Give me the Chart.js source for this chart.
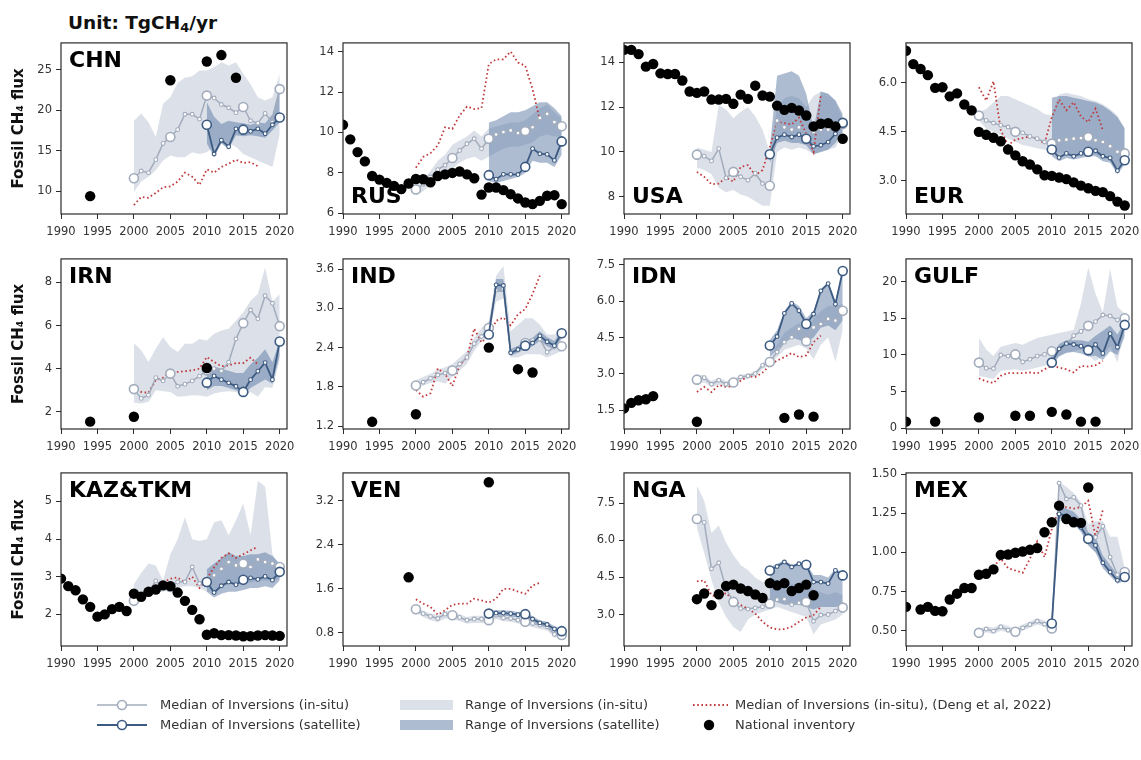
<!DOCTYPE html>
<html>
<head>
<meta charset="utf-8">
<script src="https://cdn.jsdelivr.net/npm/chart.js@4.4.1/dist/chart.umd.min.js"></script>
<style>
  html, body { margin: 0; padding: 0; background: #fff; }
  body { width: 1141px; height: 760px; position: relative; overflow: hidden; font-family: "DejaVu Sans", sans-serif; color: #222; }
  canvas { position: absolute; }
  #unit { position: absolute; left: 68px; top: 12px; font-weight: bold; font-size: 18.5px; line-height: 22px; color: #111; white-space: nowrap; }
  #unit sub { font-size: 70%; vertical-align: -0.2em; line-height: 0; }
  .lg-h { position: absolute; }
  .lg-t { position: absolute; font-size: 13px; line-height: 16px; color: #333; white-space: nowrap; }
</style>
</head>
<body>
<div id="unit">Unit: TgCH<sub>4</sub>/yr</div>
<script>
// ---------- shared year axes ----------
const YEARS_ALL = [1990,1991,1992,1993,1994,1995,1996,1997,1998,1999,2000,2001,2002,2003,2004,2005,2006,2007,2008,2009,2010,2011,2012,2013,2014,2015,2016,2017,2018,2019,2020];
const YEARS_INSITU = [2000,2001,2002,2003,2004,2005,2006,2007,2008,2009,2010,2011,2012,2013,2014,2015,2016,2017,2018,2019,2020];
const YEARS_SAT = [2010,2011,2012,2013,2014,2015,2016,2017,2018,2019,2020];
const YEARS_DENG = [2000,2001,2002,2003,2004,2005,2006,2007,2008,2009,2010,2011,2012,2013,2014,2015,2016,2017];
const X_TICKS = [1990, 1995, 2000, 2005, 2010, 2015, 2020];
const X_LIM = [1990, 2021];

// ---------- CHN ----------
const CHN_INV_YEARS = [1994, 2005, 2010, 2012, 2014];
const CHN_INV = [9.4, 23.7, 26.0, 26.8, 24.0];
const CHN_INSITU = [11.6, 12.5, 12.3, 13.9, 15.9, 16.7, 17.6, 19.5, 19.5, 18.9, 21.8, 21.5, 20.7, 20.3, 19.7, 20.4, 18.7, 18.4, 19.6, 18.5, 22.6];
const CHN_INSITU_LO = [9.9, 11.2, 11.8, 12.6, 13.8, 14.4, 14.2, 14.2, 14.8, 14.6, 14.8, 15.5, 15.9, 15.9, 15.5, 14.6, 14.2, 13.8, 13.4, 13.0, 17.0];
const CHN_INSITU_HI = [18.7, 19.6, 18.5, 16.7, 20.8, 21.6, 23.4, 24.0, 24.2, 24.9, 24.9, 25.3, 25.9, 25.5, 25.9, 24.5, 23.2, 21.6, 21.2, 21.6, 24.5];
const CHN_SAT = [18.2, 14.6, 16.3, 15.5, 17.7, 17.6, 17.4, 17.7, 17.1, 18.2, 19.1];
const CHN_SAT_LO = [15.9, 14.2, 15.9, 15.2, 16.9, 16.8, 16.9, 16.8, 16.6, 17.5, 18.5];
const CHN_SAT_HI = [21.0, 19.2, 18.3, 18.7, 18.5, 18.4, 18.2, 18.5, 18.4, 19.5, 23.0];
const CHN_DENG = [8.3, 9.3, 9.2, 9.8, 10.5, 10.6, 11.2, 12.3, 11.8, 10.8, 12.7, 12.3, 13.0, 13.4, 13.9, 13.5, 13.6, 13.1];
const CHN_Y_TICKS = ['10', '15', '20', '25'];
const CHN_Y_LIM = [7.2, 28.3];

// ---------- RUS ----------
const RUS_INV_YEARS = YEARS_ALL;
const RUS_INV = [10.38, 9.66, 9.03, 8.57, 7.85, 7.67, 7.51, 7.36, 7.2, 7.48, 7.7, 7.69, 7.54, 7.85, 7.93, 8.0, 8.07, 7.93, 7.74, 6.93, 7.28, 7.28, 7.15, 6.95, 6.74, 6.54, 6.46, 6.62, 6.87, 6.9, 6.46];
const RUS_INSITU = [7.18, 7.44, 7.8, 8.16, 8.38, 8.74, 9.11, 9.44, 9.69, 9.2, 9.69, 9.9, 10.02, 10.1, 9.97, 10.07, 10.26, 10.72, 10.92, 10.51, 10.31];
const RUS_INSITU_LO = [6.9, 7.1, 7.4, 7.7, 7.9, 8.2, 8.5, 8.7, 8.8, 8.6, 8.8, 9.0, 9.2, 9.3, 9.3, 9.4, 9.5, 9.8, 9.9, 9.8, 9.8];
const RUS_INSITU_HI = [7.5, 7.7, 8.1, 8.6, 8.9, 9.4, 9.6, 9.8, 10.1, 9.8, 10.2, 10.3, 10.4, 10.5, 10.5, 10.6, 10.9, 11.2, 11.4, 11.0, 10.7];
const RUS_SAT = [7.89, 7.69, 7.93, 7.93, 7.92, 8.3, 9.2, 8.95, 8.92, 8.62, 9.56];
const RUS_SAT_LO = [7.6, 7.5, 7.6, 7.7, 7.8, 8.0, 8.6, 8.5, 8.5, 8.3, 8.9];
const RUS_SAT_HI = [10.5, 10.6, 10.8, 11.0, 11.0, 11.1, 11.3, 11.5, 11.5, 11.2, 10.8];
const RUS_DENG = [8.26, 8.79, 8.98, 9.36, 10.26, 10.18, 10.84, 11.28, 11.16, 11.21, 13.38, 13.62, 13.62, 14.0, 13.46, 13.3, 12.15, 10.62];
const RUS_Y_TICKS = ['6', '8', '10', '12', '14'];
const RUS_Y_LIM = [5.97, 14.43];

// ---------- USA ----------
const USA_INV_YEARS = YEARS_ALL;
const USA_INV = [14.56, 14.56, 14.37, 13.81, 13.93, 13.51, 13.48, 13.48, 13.19, 12.7, 12.64, 12.7, 12.34, 12.34, 12.37, 12.15, 12.56, 12.37, 12.96, 12.52, 12.47, 12.07, 11.88, 11.97, 11.85, 11.63, 11.14, 11.26, 11.29, 11.14, 10.59];
const USA_INSITU = [9.88, 9.81, 9.6, 10.15, 8.84, 9.11, 8.89, 8.74, 9.04, 8.59, 8.49, 11.4, 11.1, 11.0, 11.1, 10.6, 10.9, 11.0, 11.0, 11.1, 11.25];
const USA_INSITU_LO = [9.3, 9.2, 9.0, 8.4, 8.2, 8.3, 8.1, 8.0, 7.8, 7.6, 7.6, 10.0, 10.2, 10.1, 10.2, 10.1, 9.9, 10.0, 10.1, 10.2, 10.8];
const USA_INSITU_HI = [10.2, 10.1, 10.0, 12.1, 11.9, 11.5, 11.8, 12.0, 11.6, 11.0, 10.0, 12.0, 12.4, 12.5, 12.4, 12.0, 12.5, 12.7, 12.6, 12.3, 11.5];
const USA_SAT = [9.9, 10.64, 10.77, 10.67, 10.77, 10.59, 10.25, 10.3, 10.44, 10.81, 11.3];
const USA_SAT_LO = [9.5, 10.4, 10.5, 10.4, 10.4, 10.3, 9.9, 10.0, 10.1, 10.4, 10.9];
const USA_SAT_HI = [10.2, 13.4, 13.5, 13.6, 13.4, 12.6, 11.0, 12.7, 12.6, 12.3, 11.7];
const USA_DENG = [9.11, 8.89, 8.56, 8.59, 8.86, 8.67, 9.33, 9.41, 8.96, 9.19, 10.22, 11.33, 11.29, 11.23, 11.53, 10.81, 10.0, 12.52];
const USA_Y_TICKS = ['8', '10', '12', '14'];
const USA_Y_LIM = [7.23, 14.87];

// ---------- EUR ----------
const EUR_INV_YEARS = YEARS_ALL;
const EUR_INV = [6.99, 6.58, 6.43, 6.24, 5.85, 5.87, 5.59, 5.68, 5.34, 5.16, 4.5, 4.41, 4.32, 4.21, 3.96, 3.78, 3.6, 3.5, 3.35, 3.17, 3.15, 3.1, 3.05, 2.95, 2.85, 2.77, 2.69, 2.65, 2.53, 2.36, 2.24];
const EUR_INSITU = [5.0, 4.85, 4.77, 4.7, 4.65, 4.5, 4.47, 4.36, 4.29, 4.19, 4.14, 4.24, 4.26, 4.29, 4.31, 4.34, 4.24, 4.19, 4.06, 3.89, 3.84];
const EUR_INSITU_LO = [4.85, 4.6, 4.5, 4.4, 4.3, 4.2, 4.1, 4.05, 4.0, 3.95, 3.9, 3.85, 3.8, 3.8, 3.8, 3.8, 3.8, 3.7, 3.65, 3.4, 3.55];
const EUR_INSITU_HI = [5.1, 5.2, 5.4, 5.6, 5.6, 5.5, 5.4, 5.3, 5.2, 5.05, 5.0, 5.65, 5.7, 5.65, 5.6, 5.5, 5.45, 5.35, 5.2, 5.0, 4.6];
const EUR_SAT = [3.96, 3.71, 3.84, 3.75, 3.84, 3.89, 3.92, 3.75, 3.7, 3.31, 3.63];
const EUR_SAT_LO = [3.75, 3.6, 3.7, 3.65, 3.7, 3.75, 3.75, 3.6, 3.55, 3.2, 3.5];
const EUR_SAT_HI = [5.55, 5.6, 5.6, 5.55, 5.5, 5.45, 5.4, 5.3, 5.15, 4.95, 4.6];
const EUR_DENG = [5.87, 5.46, 6.05, 4.55, 4.09, 4.26, 4.31, 4.36, 4.29, 4.14, 4.95, 5.49, 5.16, 5.41, 4.97, 4.8, 5.21, 4.55];
const EUR_Y_TICKS = ['3.0', '4.5', '6.0'];
const EUR_Y_LIM = [1.98, 7.23];

// ---------- IRN ----------
const IRN_INV_YEARS = [1994, 2000, 2010];
const IRN_INV = [1.54, 1.77, 4.03];
const IRN_INSITU = [3.05, 2.62, 2.77, 3.58, 3.43, 3.77, 3.18, 3.28, 3.43, 3.65, 3.92, 4.0, 3.9, 4.3, 5.38, 6.11, 6.72, 6.31, 7.38, 7.03, 5.97];
const IRN_INSITU_LO = [2.42, 2.38, 2.46, 3.0, 2.95, 2.92, 2.7, 2.72, 2.77, 2.75, 2.7, 2.85, 2.92, 2.95, 2.92, 2.7, 2.92, 2.7, 3.15, 3.1, 4.4];
const IRN_INSITU_HI = [5.18, 4.85, 4.31, 4.92, 5.46, 5.0, 4.77, 5.15, 5.15, 5.38, 5.31, 5.62, 5.77, 5.85, 6.23, 6.62, 7.15, 7.46, 8.69, 7.1, 7.46];
const IRN_SAT = [3.35, 3.66, 3.49, 3.34, 3.18, 2.92, 3.49, 3.88, 4.28, 3.49, 5.26];
const IRN_SAT_LO = [3.0, 3.2, 3.2, 3.1, 3.0, 2.8, 3.1, 3.3, 3.5, 3.3, 4.6];
const IRN_SAT_HI = [4.0, 4.1, 4.0, 3.9, 3.8, 3.8, 4.2, 4.5, 4.9, 4.3, 5.3];
const IRN_DENG = [3.18, 2.92, 2.88, 3.46, 3.58, 3.85, 3.85, 3.88, 3.92, 4.0, 4.54, 4.31, 4.11, 4.15, 4.26, 4.26, 4.51, 4.2];
const IRN_Y_TICKS = ['2', '4', '6', '8'];
const IRN_Y_LIM = [1.2, 9.09];

// ---------- IND ----------
const IND_INV_YEARS = [1994, 2000, 2010, 2014, 2016];
const IND_INV = [1.265, 1.38, 2.4, 2.07, 2.02];
const IND_INSITU = [1.82, 1.87, 1.93, 1.98, 2.01, 2.05, 2.15, 2.25, 2.46, 2.57, 2.7, 3.28, 3.3, 2.33, 2.36, 2.47, 2.51, 2.53, 2.33, 2.41, 2.42];
const IND_INSITU_LO = [1.78, 1.82, 1.86, 1.88, 1.85, 1.95, 2.05, 2.15, 2.35, 2.5, 2.55, 3.1, 3.15, 2.25, 2.25, 2.3, 2.3, 2.3, 2.25, 2.3, 2.35];
const IND_INSITU_HI = [1.9, 1.95, 2.0, 2.06, 2.1, 2.15, 2.25, 2.35, 2.55, 2.7, 2.8, 3.5, 3.65, 2.65, 2.75, 2.85, 2.85, 2.75, 2.6, 2.6, 2.65];
const IND_SAT = [2.6, 3.36, 3.35, 2.32, 2.37, 2.43, 2.47, 2.58, 2.49, 2.43, 2.62];
const IND_SAT_LO = [2.52, 3.25, 3.25, 2.27, 2.32, 2.38, 2.42, 2.5, 2.42, 2.37, 2.55];
const IND_SAT_HI = [2.68, 3.45, 3.45, 2.38, 2.43, 2.5, 2.55, 2.65, 2.56, 2.5, 2.68];
const IND_DENG = [1.75, 1.65, 1.7, 2.08, 2.0, 1.81, 2.13, 2.25, 2.69, 2.48, 2.58, 2.81, 2.86, 2.74, 2.91, 2.99, 3.22, 3.5];
const IND_Y_TICKS = ['1.2', '1.8', '2.4', '3.0', '3.6'];
const IND_Y_LIM = [1.155, 3.757];

// ---------- IDN ----------
const IDN_INV_YEARS = [1990, 1991, 1992, 1993, 1994, 2000, 2012, 2014, 2016];
const IDN_INV = [1.57, 1.8, 1.91, 1.95, 2.08, 1.02, 1.18, 1.32, 1.23];
const IDN_INSITU = [2.76, 2.84, 2.57, 2.73, 2.57, 2.64, 2.87, 2.91, 3.01, 3.35, 3.49, 3.9, 4.31, 4.51, 4.86, 4.35, 4.92, 5.06, 5.27, 5.2, 5.61];
const IDN_INSITU_LO = [2.6, 2.65, 2.45, 2.55, 2.45, 2.5, 2.75, 2.8, 2.9, 3.2, 3.35, 3.7, 4.0, 4.1, 4.2, 4.05, 3.6, 4.2, 4.5, 3.5, 4.8];
const IDN_INSITU_HI = [2.95, 2.95, 2.7, 2.85, 2.7, 2.8, 2.95, 3.0, 3.1, 3.45, 3.65, 4.2, 4.7, 4.9, 5.1, 4.8, 5.3, 5.6, 5.8, 5.8, 5.9];
const IDN_SAT = [4.17, 4.54, 5.5, 5.91, 5.61, 5.06, 5.47, 6.43, 6.73, 5.88, 7.25];
const IDN_SAT_LO = [3.7, 4.0, 4.3, 4.5, 4.4, 4.3, 4.5, 4.9, 5.0, 4.8, 5.2];
const IDN_SAT_HI = [4.4, 4.8, 5.6, 6.0, 5.8, 5.3, 5.6, 6.5, 6.8, 6.0, 7.3];
const IDN_DENG = [2.25, 2.46, 2.25, 2.53, 2.46, 2.49, 2.71, 2.9, 2.87, 3.05, 3.35, 3.55, 3.69, 3.86, 3.69, 3.76, 4.31, 4.58];
const IDN_Y_TICKS = ['1.5', '3.0', '4.5', '6.0', '7.5'];
const IDN_Y_LIM = [0.72, 7.75];

// ---------- GULF ----------
const GULF_INV_YEARS = [1990, 1994, 2000, 2005, 2007, 2010, 2012, 2014, 2016];
const GULF_INV = [0.9, 0.9, 1.48, 1.7, 1.7, 2.24, 1.88, 0.9, 0.9];
const GULF_INSITU = [8.95, 8.19, 8.14, 9.98, 9.84, 10.07, 9.04, 9.4, 9.84, 10.07, 10.51, 10.74, 11.41, 12.62, 13.2, 13.96, 14.54, 15.44, 15.3, 14.77, 14.99];
const GULF_INSITU_LO = [7.16, 6.93, 6.71, 7.83, 7.96, 8.05, 7.83, 8.05, 8.28, 8.5, 9.17, 9.84, 10.29, 10.51, 10.74, 9.84, 9.17, 9.84, 11.19, 8.95, 13.42];
const GULF_INSITU_HI = [12.3, 10.74, 9.84, 11.1, 11.4, 11.63, 11.4, 11.86, 12.3, 12.53, 12.75, 12.98, 13.2, 13.42, 17.0, 21.92, 18.34, 15.8, 21.7, 16.55, 15.66];
const GULF_SAT = [8.95, 10.83, 11.54, 11.41, 11.19, 10.65, 11.41, 10.2, 12.89, 11.05, 14.09];
const GULF_SAT_LO = [8.5, 9.8, 10.3, 10.4, 10.2, 9.8, 9.9, 9.3, 10.5, 10.0, 12.5];
const GULF_SAT_HI = [9.6, 11.5, 12.0, 12.0, 12.0, 11.8, 12.6, 13.3, 14.0, 12.8, 14.5];
const GULF_DENG = [6.8, 6.4, 6.17, 7.16, 7.52, 7.52, 7.52, 7.61, 7.47, 8.05, 8.5, 8.28, 8.05, 7.61, 8.5, 8.41, 8.59, 9.17];
const GULF_Y_TICKS = ['0', '5', '10', '15', '20'];
const GULF_Y_LIM = [-0.1, 23.09];

// ---------- KAZ&TKM ----------
const KAZ_INV_YEARS = YEARS_ALL;
const KAZ_INV = [2.95, 2.75, 2.64, 2.4, 2.2, 1.94, 2.0, 2.14, 2.2, 2.09, 2.55, 2.47, 2.6, 2.66, 2.77, 2.75, 2.58, 2.36, 2.12, 1.87, 1.46, 1.5, 1.45, 1.45, 1.44, 1.42, 1.42, 1.44, 1.45, 1.44, 1.43];
const KAZ_INSITU = [2.36, 2.47, 2.6, 2.89, 2.73, 2.73, 2.86, 2.86, 3.26, 2.82, 2.86, 3.04, 3.21, 3.39, 3.3, 3.35, 3.26, 3.46, 3.39, 3.35, 3.26];
const KAZ_INSITU_LO = [2.3, 2.45, 2.55, 2.6, 2.6, 2.65, 2.7, 2.75, 2.75, 2.7, 2.6, 2.6, 2.7, 2.8, 2.8, 2.85, 2.85, 2.9, 2.9, 2.9, 2.95];
const KAZ_INSITU_HI = [2.8, 3.1, 3.35, 3.3, 2.9, 3.6, 4.0, 4.58, 4.0, 3.95, 4.0, 4.45, 4.5, 4.1, 4.5, 4.95, 4.1, 5.55, 5.4, 3.6, 3.3];
const KAZ_SAT = [2.86, 2.58, 2.76, 2.86, 2.79, 2.92, 2.97, 2.93, 3.01, 2.91, 3.13];
const KAZ_SAT_LO = [2.6, 2.45, 2.55, 2.6, 2.6, 2.65, 2.7, 2.7, 2.75, 2.7, 2.9];
const KAZ_SAT_HI = [3.2, 3.35, 3.5, 3.65, 3.55, 3.55, 3.6, 3.6, 3.65, 3.55, 3.35];
const KAZ_DENG = [null, null, null, null, 2.85, 2.95, 2.98, 2.85, 3.0, 2.7, 2.95, 3.25, 3.5, 3.62, 3.5, 3.6, 3.7, 3.8];
const KAZ_Y_TICKS = ['2', '3', '4', '5'];
const KAZ_Y_LIM = [1.16, 5.76];

// ---------- VEN ----------
const VEN_INV_YEARS = [1999, 2010];
const VEN_INV = [1.81, 3.54];
const VEN_INSITU = [1.23, 1.15, 1.1, 1.06, 1.14, 1.12, 1.08, 1.03, 1.05, 1.05, 1.03, 1.12, 1.07, 1.06, 1.03, 1.0, 0.97, 0.94, 0.91, 0.77, 0.76];
const VEN_INSITU_LO = [1.17, 1.09, 1.03, 0.99, 1.06, 1.05, 1.01, 0.97, 0.98, 0.98, 0.97, 1.05, 1.01, 1.0, 0.97, 0.94, 0.9, 0.87, 0.84, 0.72, 0.71];
const VEN_INSITU_HI = [1.28, 1.2, 1.15, 1.12, 1.2, 1.18, 1.14, 1.09, 1.11, 1.11, 1.1, 1.18, 1.14, 1.12, 1.1, 1.07, 1.04, 1.01, 0.98, 0.84, 0.82];
const VEN_SAT = [1.15, 1.16, 1.16, 1.15, 1.13, 1.14, 1.05, 0.98, 0.95, 0.87, 0.83];
const VEN_SAT_LO = [1.1, 1.11, 1.11, 1.1, 1.08, 1.08, 1.0, 0.93, 0.9, 0.82, 0.79];
const VEN_SAT_HI = [1.2, 1.21, 1.21, 1.2, 1.18, 1.19, 1.1, 1.03, 1.0, 0.92, 0.87];
const VEN_DENG = [1.41, 1.33, 1.27, 1.13, 1.21, 1.31, 1.33, 1.33, 1.42, 1.39, 1.35, 1.42, 1.6, 1.6, 1.55, 1.51, 1.66, 1.71];
const VEN_Y_TICKS = ['0.8', '1.6', '2.4', '3.2'];
const VEN_Y_LIM = [0.56, 3.71];

// ---------- NGA ----------
const NGA_INV_YEARS = [2000,2001,2002,2003,2004,2005,2006,2007,2008,2009,2010,2011,2012,2013,2014,2015,2016];
const NGA_INV = [3.62, 3.85, 3.38, 3.82, 4.15, 4.21, 4.05, 3.95, 3.81, 3.67, 4.27, 4.18, 4.27, 3.95, 4.07, 4.21, 3.78];
const NGA_INSITU = [6.86, 6.72, 4.85, 5.09, 4.05, 3.51, 3.24, 3.22, 3.27, 3.31, 3.44, 3.6, 3.62, 3.4, 3.47, 3.51, 2.73, 2.98, 3.0, 3.14, 3.28];
const NGA_INSITU_LO = [6.5, 5.5, 4.4, 3.5, 2.9, 2.5, 2.3, 2.8, 3.0, 3.1, 3.2, 3.3, 3.2, 3.1, 3.0, 2.9, 2.2, 2.6, 2.7, 2.8, 3.0];
const NGA_INSITU_HI = [8.2, 7.6, 6.3, 6.6, 5.9, 5.4, 5.0, 4.8, 4.5, 4.3, 4.5, 4.4, 4.3, 4.2, 4.3, 4.4, 4.0, 3.9, 3.8, 3.9, 3.8];
const NGA_SAT = [4.78, 4.94, 5.12, 4.92, 5.05, 5.01, 4.31, 4.31, 4.25, 4.78, 4.58];
const NGA_SAT_LO = [3.6, 3.5, 3.4, 3.4, 3.4, 3.3, 3.2, 3.3, 3.3, 3.3, 3.4];
const NGA_SAT_HI = [4.9, 5.05, 5.2, 5.0, 5.1, 5.05, 4.6, 4.6, 4.5, 4.85, 4.7];
const NGA_DENG = [4.34, 4.38, 3.78, 3.71, 3.87, 3.58, 3.38, 3.24, 3.04, 2.71, 2.48, 2.4, 2.41, 2.51, 2.71, 2.88, 2.98, 3.31];
const NGA_Y_TICKS = ['3.0', '4.5', '6.0', '7.5'];
const NGA_Y_LIM = [1.73, 8.72];

// ---------- MEX ----------
const MEX_INV_YEARS = [1990,1992,1993,1994,1995,1996,1997,1998,1999,2000,2001,2002,2003,2004,2005,2006,2007,2008,2009,2010,2011,2012,2013,2014,2015];
const MEX_INV = [0.653, 0.636, 0.653, 0.627, 0.625, 0.7, 0.737, 0.773, 0.773, 0.858, 0.864, 0.892, 0.985, 0.987, 0.998, 1.006, 1.017, 1.028, 1.129, 1.193, 1.299, 1.214, 1.193, 1.189, 1.415];
const MEX_INSITU = [0.487, 0.511, 0.498, 0.525, 0.504, 0.494, 0.519, 0.54, 0.561, 0.542, 0.515, 1.443, 1.341, 1.352, 1.299, 1.087, 1.097, 1.167, 0.97, 0.858, 0.875];
const MEX_INSITU_LO = [0.47, 0.49, 0.48, 0.5, 0.49, 0.475, 0.5, 0.52, 0.54, 0.525, 0.5, 1.2, 1.2, 1.18, 1.14, 1.04, 1.0, 0.95, 0.88, 0.82, 0.83];
const MEX_INSITU_HI = [0.51, 0.53, 0.52, 0.545, 0.53, 0.515, 0.54, 0.56, 0.58, 0.565, 0.54, 1.45, 1.42, 1.38, 1.32, 1.18, 1.2, 1.2, 1.1, 1.1, 0.9];
const MEX_SAT = [0.547, 1.246, 1.235, 1.214, 1.161, 1.087, 1.045, 0.934, 0.875, 0.822, 0.843];
const MEX_SAT_LO = [0.53, 1.22, 1.2, 1.18, 1.13, 1.05, 1.0, 0.9, 0.85, 0.8, 0.82];
const MEX_SAT_HI = [0.56, 1.3, 1.28, 1.26, 1.21, 1.13, 1.1, 0.98, 0.92, 0.86, 0.88];
const MEX_DENG = [0.86, 0.87, 0.91, 0.96, 0.9, 0.885, 0.87, 0.96, 1.07, 0.97, 1.15, 1.28, 1.29, 1.28, 1.29, 1.33, 1.1, 1.27];
const MEX_Y_TICKS = ['0.50', '0.75', '1.00', '1.25', '1.50'];
const MEX_Y_LIM = [0.403, 1.508];

// ---------- panel table (built from the arrays above) ----------
const PANELS = [
  ['CHN', CHN_INV_YEARS, CHN_INV, CHN_INSITU, CHN_INSITU_LO, CHN_INSITU_HI, CHN_SAT, CHN_SAT_LO, CHN_SAT_HI, CHN_DENG, CHN_Y_TICKS, CHN_Y_LIM],
  ['RUS', RUS_INV_YEARS, RUS_INV, RUS_INSITU, RUS_INSITU_LO, RUS_INSITU_HI, RUS_SAT, RUS_SAT_LO, RUS_SAT_HI, RUS_DENG, RUS_Y_TICKS, RUS_Y_LIM],
  ['USA', USA_INV_YEARS, USA_INV, USA_INSITU, USA_INSITU_LO, USA_INSITU_HI, USA_SAT, USA_SAT_LO, USA_SAT_HI, USA_DENG, USA_Y_TICKS, USA_Y_LIM],
  ['EUR', EUR_INV_YEARS, EUR_INV, EUR_INSITU, EUR_INSITU_LO, EUR_INSITU_HI, EUR_SAT, EUR_SAT_LO, EUR_SAT_HI, EUR_DENG, EUR_Y_TICKS, EUR_Y_LIM],
  ['IRN', IRN_INV_YEARS, IRN_INV, IRN_INSITU, IRN_INSITU_LO, IRN_INSITU_HI, IRN_SAT, IRN_SAT_LO, IRN_SAT_HI, IRN_DENG, IRN_Y_TICKS, IRN_Y_LIM],
  ['IND', IND_INV_YEARS, IND_INV, IND_INSITU, IND_INSITU_LO, IND_INSITU_HI, IND_SAT, IND_SAT_LO, IND_SAT_HI, IND_DENG, IND_Y_TICKS, IND_Y_LIM],
  ['IDN', IDN_INV_YEARS, IDN_INV, IDN_INSITU, IDN_INSITU_LO, IDN_INSITU_HI, IDN_SAT, IDN_SAT_LO, IDN_SAT_HI, IDN_DENG, IDN_Y_TICKS, IDN_Y_LIM],
  ['GULF', GULF_INV_YEARS, GULF_INV, GULF_INSITU, GULF_INSITU_LO, GULF_INSITU_HI, GULF_SAT, GULF_SAT_LO, GULF_SAT_HI, GULF_DENG, GULF_Y_TICKS, GULF_Y_LIM],
  ['KAZ&TKM', KAZ_INV_YEARS, KAZ_INV, KAZ_INSITU, KAZ_INSITU_LO, KAZ_INSITU_HI, KAZ_SAT, KAZ_SAT_LO, KAZ_SAT_HI, KAZ_DENG, KAZ_Y_TICKS, KAZ_Y_LIM],
  ['VEN', VEN_INV_YEARS, VEN_INV, VEN_INSITU, VEN_INSITU_LO, VEN_INSITU_HI, VEN_SAT, VEN_SAT_LO, VEN_SAT_HI, VEN_DENG, VEN_Y_TICKS, VEN_Y_LIM],
  ['NGA', NGA_INV_YEARS, NGA_INV, NGA_INSITU, NGA_INSITU_LO, NGA_INSITU_HI, NGA_SAT, NGA_SAT_LO, NGA_SAT_HI, NGA_DENG, NGA_Y_TICKS, NGA_Y_LIM],
  ['MEX', MEX_INV_YEARS, MEX_INV, MEX_INSITU, MEX_INSITU_LO, MEX_INSITU_HI, MEX_SAT, MEX_SAT_LO, MEX_SAT_HI, MEX_DENG, MEX_Y_TICKS, MEX_Y_LIM]
];

// ---------- styling & layout ----------
const C_INSITU = '#a2acbc';
const C_SAT = '#3d5b82';
const C_INSITU_FILL = 'rgba(186,195,211,0.5)';
const C_SAT_FILL = 'rgba(92,122,163,0.5)';
const C_DENG = '#c03a3c';
const C_AXIS = '#2b2b2b';
const FONT = '"DejaVu Sans", sans-serif';
const TICK_FONT = 11.5;

const PLOT_LEFT = [61, 343, 624, 906];
const PLOT_TOP = [42, 258, 472];
const PLOT_H = [172, 171, 174];
const PLOT_W = 226;
const PAD_T = 10, PAD_R = 14, AX_H = 34;
const TITLE_AT_BOTTOM = ['RUS', 'USA', 'EUR'];

Chart.defaults.font.family = FONT;
Chart.defaults.color = '#333';

const zip = (xs, ys) => xs.map((x, i) => ({ x: x, y: ys[i] }));
const isBig = c => !!(c.raw && c.raw.x % 5 === 0);

// draws the full axes box and the region code inside it
const framePlugin = {
  id: 'frame',
  afterDatasetsDraw(chart, args, opts) {
    const { ctx, chartArea: a } = chart;
    ctx.save();
    ctx.strokeStyle = C_AXIS;
    ctx.lineWidth = 1.2;
    ctx.strokeRect(a.left, a.top, a.right - a.left, a.bottom - a.top);
    ctx.font = 'bold 22px ' + FONT;
    ctx.fillStyle = '#000';
    ctx.textBaseline = 'alphabetic';
    ctx.textAlign = 'left';
    ctx.fillText(opts.label, a.left + 8, opts.bottom ? a.bottom - 11 : a.top + 24);
    ctx.restore();
  }
};

function bandPair(years, lo, hi, fillColor, order) {
  return [
    { data: zip(years, lo), borderWidth: 0, borderColor: 'transparent', pointRadius: 0, fill: false, order: order, clip: 0 },
    { data: zip(years, hi), borderWidth: 0, borderColor: 'transparent', pointRadius: 0, fill: '-1', backgroundColor: fillColor, order: order, clip: 0 }
  ];
}

function medianLine(years, vals, color, width, order) {
  return {
    data: zip(years, vals), borderColor: color, borderWidth: width, tension: 0,
    pointRadius: c => isBig(c) ? 4.5 : 1.9,
    pointBorderWidth: c => isBig(c) ? 1.6 : 1.1,
    pointBackgroundColor: '#ffffff', pointBorderColor: color,
    fill: false, order: order, clip: 0
  };
}

PANELS.forEach((p, i) => {
  const [name, invYears, inv, insitu, insituLo, insituHi, sat, satLo, satHi, deng, yTicks, yLim] = p;
  const col = i % 4, row = Math.floor(i / 4);
  const axW = col === 0 ? PLOT_LEFT[0] : 50;
  const w = axW + PLOT_W + PAD_R;
  const h = PAD_T + PLOT_H[row] + AX_H;

  const cv = document.createElement('canvas');
  cv.width = w; cv.height = h;
  cv.style.width = w + 'px'; cv.style.height = h + 'px';
  cv.style.left = (PLOT_LEFT[col] - axW) + 'px';
  cv.style.top = (PLOT_TOP[row] - PAD_T) + 'px';
  document.body.appendChild(cv);

  const yVals = yTicks.map(Number);

  const datasets = [
    ...bandPair(YEARS_INSITU, insituLo, insituHi, C_INSITU_FILL, 30),
    ...bandPair(YEARS_SAT, satLo, satHi, C_SAT_FILL, 29),
    { data: zip(YEARS_DENG, deng), borderColor: C_DENG, borderWidth: 1.8, borderDash: [1.6, 2.6],
      pointRadius: 0, fill: false, spanGaps: false, order: 12, clip: 0 },
    medianLine(YEARS_INSITU, insitu, C_INSITU, 1.5, 10),
    medianLine(YEARS_SAT, sat, C_SAT, 1.8, 9),
    { data: zip(invYears, inv), showLine: false, pointRadius: 5.2, pointBorderWidth: 0,
      pointBackgroundColor: '#000', pointBorderColor: '#000', order: 1, clip: 0 }
  ];

  new Chart(cv, {
    type: 'line',
    data: { datasets: datasets },
    plugins: [framePlugin],
    options: {
      responsive: false, animation: false, devicePixelRatio: 1, events: [],
      layout: { padding: { top: PAD_T, right: PAD_R, left: 0, bottom: 0 } },
      plugins: { legend: { display: false }, tooltip: { enabled: false },
                 frame: { label: name, bottom: TITLE_AT_BOTTOM.includes(name) } },
      scales: {
        x: {
          type: 'linear', min: X_LIM[0], max: X_LIM[1],
          afterBuildTicks: s => { s.ticks = X_TICKS.map(v => ({ value: v })); },
          afterFit: s => { s.height = AX_H; },
          ticks: { autoSkip: false, maxRotation: 0, padding: 6, color: '#333', font: { size: TICK_FONT },
                   callback: v => String(v) },
          grid: { drawOnChartArea: false, tickLength: 5, color: C_AXIS, tickWidth: 1 },
          border: { display: false }
        },
        y: {
          type: 'linear', min: yLim[0], max: yLim[1],
          afterBuildTicks: s => { s.ticks = yVals.map(v => ({ value: v })); },
          afterFit: s => { s.width = axW; },
          ticks: { padding: 4, color: '#333', font: { size: TICK_FONT },
                   callback: (v, idx) => yTicks[idx] },
          grid: { drawOnChartArea: false, tickLength: 5, color: C_AXIS, tickWidth: 1 },
          border: { display: false },
          title: { display: col === 0, text: 'Fossil CH\u2084 flux', color: '#111',
                   font: { size: 15, weight: 'bold' }, padding: { top: 10, bottom: 0 } }
        }
      }
    }
  });
});

// ---------- legend ----------
const LEGEND = [
  { kind: 'insitu', text: 'Median of Inversions (in-situ)', x: 96, tx: 160, y: 705 },
  { kind: 'sat', text: 'Median of Inversions (satellite)', x: 96, tx: 160, y: 725 },
  { kind: 'insituRange', text: 'Range of Inversions (in-situ)', x: 399, tx: 465, y: 705 },
  { kind: 'satRange', text: 'Range of Inversions (satellite)', x: 399, tx: 465, y: 725 },
  { kind: 'deng', text: 'Median of Inversions (in-situ), (Deng et al, 2022)', x: 692, tx: 735, y: 705 },
  { kind: 'inv', text: 'National inventory', x: 692, tx: 735, y: 725 }
];
const SVGNS = 'http://www.w3.org/2000/svg';
function el(tag, attrs) { const e = document.createElementNS(SVGNS, tag); for (const k in attrs) e.setAttribute(k, attrs[k]); return e; }
LEGEND.forEach(it => {
  const svg = el('svg', { width: 56, height: 16, class: 'lg-h' });
  svg.style.left = it.x + 'px'; svg.style.top = (it.y - 8) + 'px';
  if (it.kind === 'insitu' || it.kind === 'sat') {
    const c = it.kind === 'insitu' ? C_INSITU : C_SAT;
    svg.appendChild(el('line', { x1: 1, y1: 8, x2: 51, y2: 8, stroke: c, 'stroke-width': it.kind === 'sat' ? 1.8 : 1.5 }));
    svg.appendChild(el('circle', { cx: 26, cy: 8, r: 4.5, fill: '#fff', stroke: c, 'stroke-width': 1.6 }));
  } else if (it.kind === 'insituRange' || it.kind === 'satRange') {
    svg.appendChild(el('rect', { x: 1, y: 3, width: 53, height: 10, fill: it.kind === 'insituRange' ? C_INSITU_FILL : C_SAT_FILL }));
  } else if (it.kind === 'deng') {
    svg.appendChild(el('line', { x1: 1, y1: 8, x2: 36, y2: 8, stroke: C_DENG, 'stroke-width': 1.8, 'stroke-dasharray': '1.6 2.6' }));
  } else {
    svg.appendChild(el('circle', { cx: 17, cy: 8, r: 5.2, fill: '#000' }));
  }
  document.body.appendChild(svg);
  const t = document.createElement('div');
  t.className = 'lg-t';
  t.textContent = it.text;
  t.style.left = it.tx + 'px'; t.style.top = (it.y - 8) + 'px';
  document.body.appendChild(t);
});
</script>
</body>
</html>
